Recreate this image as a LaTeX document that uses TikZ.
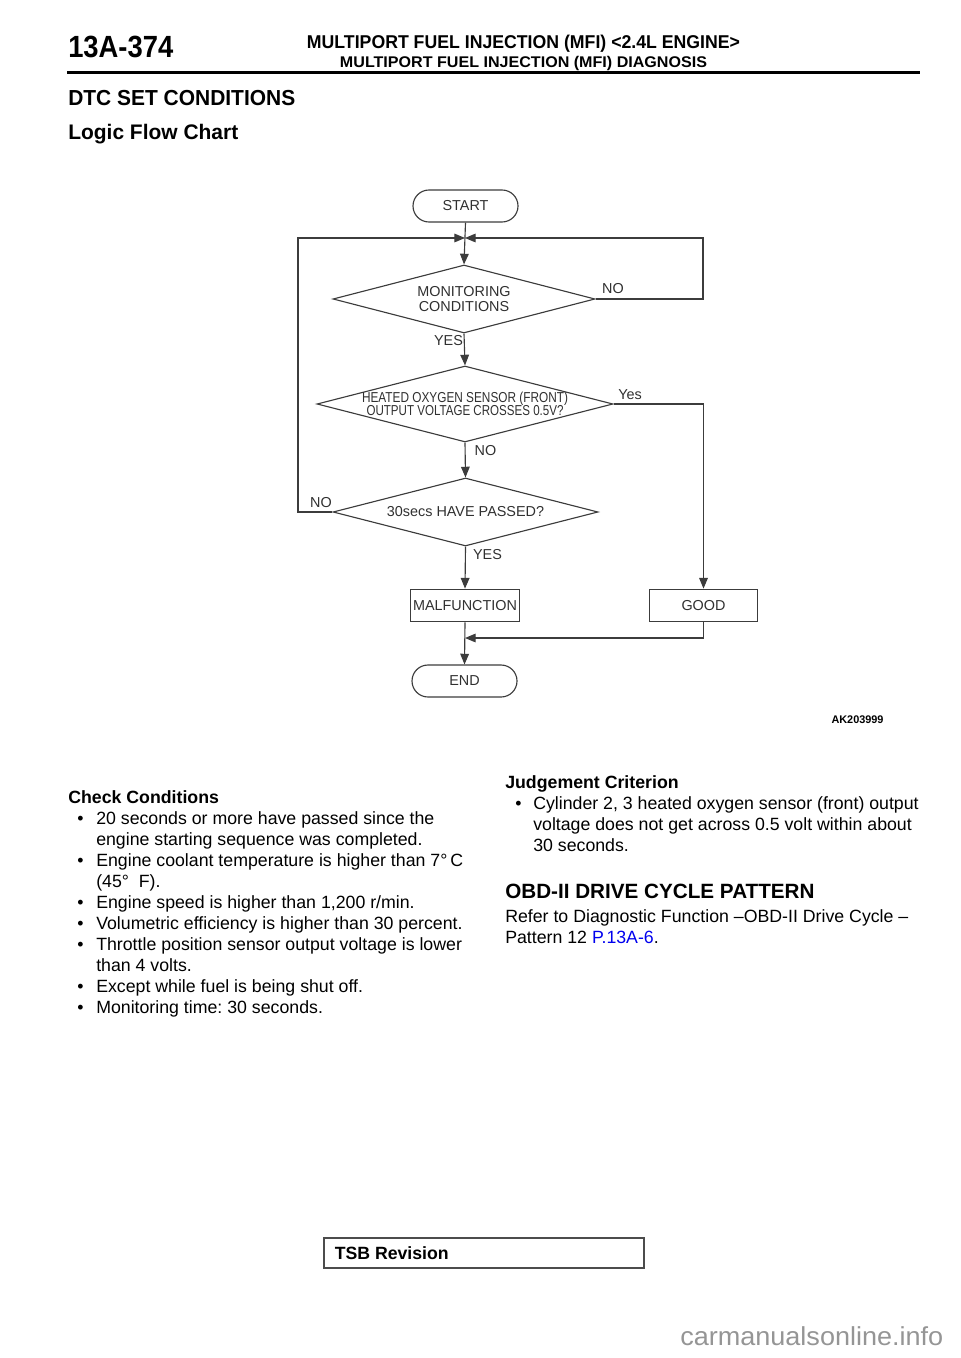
\documentclass[tikz,border=0pt]{standalone}
\usepackage{fontspec}
\setmainfont{Liberation Sans}
\usepackage{graphicx}
\usetikzlibrary{shapes.geometric,arrows.meta}
\definecolor{fcgray}{HTML}{3C3C3C}
\definecolor{fctext}{HTML}{303030}
\definecolor{wmgray}{HTML}{959595}
\definecolor{linkblue}{HTML}{0000EE}
\newlength\px \setlength\px{0.75pt}
\newcommand\fcfont{\fontsize{10.8pt}{11.25pt}\selectfont}
\newcommand\bodyfont{\fontsize{13.3pt}{15.75pt}\selectfont}
\newcommand\fitw[2]{\resizebox{#1\px}{\height}{#2}}
\frenchspacing
\begin{document}
\begin{tikzpicture}[x=0.75pt,y=-0.75pt,
  fcl/.style={draw=fcgray, line width=0.85pt},
  arr/.style={fcl, -{Triangle[length=8pt,width=6.5pt]}},
  term/.style={fcl, rounded corners=12pt, minimum width=78.75pt, minimum height=24pt, inner sep=0pt, font=\fcfont, text=fctext},
  fcbox/.style={fcl, minimum width=81.5pt, minimum height=24.5pt, inner sep=0pt, font=\fcfont, text=fctext},
  dia/.style={fcl, diamond, inner sep=0pt},
  dtext/.style={font=\fcfont, text=fctext, align=center, inner sep=0pt},
  lab/.style={font=\fcfont, text=fctext, inner sep=0pt},
  body/.style={anchor=base west, inner sep=0pt, font=\bodyfont},
  bul/.style={anchor=base, inner sep=0pt, font=\bodyfont},
]
\useasboundingbox (0,0) rectangle (960,1358);

% ---------- header ----------
\node[anchor=base west, inner sep=0pt] (pg) at (68,58) {\fitw{105}{\fontsize{23pt}{25pt}\selectfont\bfseries 13A-374}};
\node[anchor=base, inner sep=0pt] (h1) at (523.5,49) {\fitw{433}{\fontsize{13.9pt}{15pt}\selectfont\bfseries MULTIPORT FUEL INJECTION (MFI) <2.4L ENGINE>}};
\node[anchor=base, inner sep=0pt] (h2) at (523.5,67.5) {\fitw{367}{\fontsize{11.6pt}{13pt}\selectfont\bfseries MULTIPORT FUEL INJECTION (MFI) DIAGNOSIS}};
\draw[line width=2.25pt] (67,72.5) -- (920,72.5);
\node[anchor=base west, inner sep=0pt] (dtc) at (68,105.5) {\fitw{227}{\fontsize{16.3pt}{18pt}\selectfont\bfseries DTC SET CONDITIONS}};
\node[anchor=base west, inner sep=0pt] (lfc) at (68,139.5) {\fitw{170}{\fontsize{15.8pt}{18pt}\selectfont\bfseries Logic Flow Chart}};

% ---------- flowchart ----------
\node[term] (start) at (465.5,206) {START};
\node[dia, minimum width=196.5pt, minimum height=51pt] (d1) at (464,299) {};
\node[dtext] (d1t) at (d1.center) {MONITORING\\CONDITIONS};
\node[dia, minimum width=222pt, minimum height=57pt] (d2) at (465,404) {};
\node[dtext] (d2t) at (d2.center) {\fitw{206}{HEATED OXYGEN SENSOR (FRONT)}\\[-1.5pt]\fitw{197}{OUTPUT VOLTAGE CROSSES 0.5V?}};
\node[dia, minimum width=198.75pt, minimum height=51pt] (d3) at (465.5,512) {};
\node[dtext] (d3t) at (d3.center) {30secs HAVE PASSED?};
\node[fcbox] (mal) at (465,605.5) {MALFUNCTION};
\node[fcbox] (good) at (703.5,605.5) {GOOD};
\node[term] (end) at (464.5,681) {END};

\coordinate (jt) at (465,238);
\coordinate (jb) at (465,638);

\draw[arr] (start.south) -- (d1.north);
\draw[arr] (d3.west) -- (298,512) |- (jt);
\draw[arr] (d1.east) -- (703,299) |- (jt);
\draw[arr] (d1.south) -- (d2.north);
\draw[arr] (d2.south) -- (d3.north);
\draw[arr] (d3.south) -- (mal.north);
\draw[arr] (d2.east) -| (good.north);
\draw[arr] (good.south) |- (jb);
\draw[arr] (mal.south) -- (end.north);

\node[lab] (l1) at (613,289) {NO};
\node[lab] (l2) at (448.5,340.5) {YES};
\node[lab] (l3) at (630,395) {Yes};
\node[lab] (l4) at (485.5,450.5) {NO};
\node[lab] (l5) at (321,503) {NO};
\node[lab] (l6) at (487.5,554.5) {YES};

\node[anchor=base, inner sep=0pt] (ak) at (857.5,723.5) {\fitw{52}{\fontsize{8.3pt}{9pt}\selectfont\bfseries AK203999}};

% ---------- left column ----------
\node[body, font=\bodyfont\bfseries] (cc) at (68,803) {Check Conditions};
\node[bul] (b1) at (80.5,824) {•};
\node[body] (c1) at (96,824) {20 seconds or more have passed since the};
\node[body] (c1b) at (96,845) {engine starting sequence was completed.};
\node[bul] (b2) at (80.5,866) {•};
\node[body] (c2) at (96,866) {Engine coolant temperature is higher than 7°\,C};
\node[body] (c2b) at (96,887) {(45°\ \ F).};
\node[bul] (b3) at (80.5,908) {•};
\node[body] (c3) at (96,908) {Engine speed is higher than 1,200 r/min.};
\node[bul] (b4) at (80.5,929) {•};
\node[body] (c4) at (96,929) {Volumetric efficiency is higher than 30 percent.};
\node[bul] (b5) at (80.5,950) {•};
\node[body] (c5) at (96,950) {Throttle position sensor output voltage is lower};
\node[body] (c5b) at (96,971) {than 4 volts.};
\node[bul] (b6) at (80.5,992) {•};
\node[body] (c6) at (96,992) {Except while fuel is being shut off.};
\node[bul] (b7) at (80.5,1013) {•};
\node[body] (c7) at (96,1013) {Monitoring time: 30 seconds.};

% ---------- right column ----------
\node[body, font=\bodyfont\bfseries] (jc) at (505,788) {Judgement Criterion};
\node[bul] (b8) at (518.5,809) {•};
\node[body] (j1) at (533,809) {Cylinder 2, 3 heated oxygen sensor (front) output};
\node[body] (j1b) at (533,830) {voltage does not get across 0.5 volt within about};
\node[body] (j1c) at (533,851) {30 seconds.};
\node[body, font=\fontsize{15.5pt}{18pt}\selectfont\bfseries] (obd) at (505,898) {OBD-II DRIVE CYCLE PATTERN};
\node[body] (r1) at (505,922) {Refer to Diagnostic Function –OBD-II Drive Cycle –};
\node[body] (r2) at (505,943) {Pattern 12 \textcolor{linkblue}{P.13A-6}.};

% ---------- footer ----------
\node[draw=black!70, line width=0.8pt, minimum width=240pt, minimum height=22.5pt, inner sep=0pt] (tsb) at (484,1253) {};
\node[anchor=base west, inner sep=0pt] (tsbt) at (334.5,1259) {\fitw{114}{\fontsize{13.3pt}{15pt}\selectfont\bfseries TSB Revision}};
\node[anchor=base west, inner sep=0pt, text=wmgray] (wm) at (680,1345.5) {\fitw{263}{\fontsize{19.5pt}{22pt}\selectfont carmanualsonline.info}};
\end{tikzpicture}
\end{document}
